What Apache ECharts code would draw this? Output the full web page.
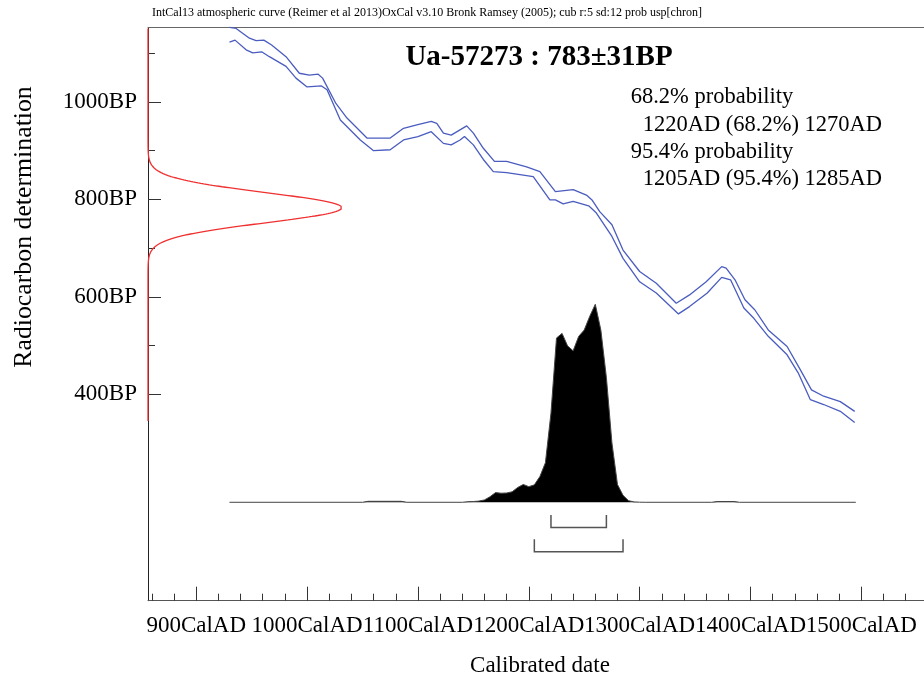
<!DOCTYPE html>
<html>
<head>
<meta charset="utf-8">
<script src="https://cdn.jsdelivr.net/npm/echarts@6/dist/echarts.min.js"></script>
<style>
  html, body { margin: 0; padding: 0; background: #fff; }
  #chart { width: 924px; height: 686px; }
</style>
</head>
<body>
<div id="chart"></div>
<script>
// Radiocarbon measurement
const labCode = 'Ua-57273';
const bpMean = 783;
const bpSigma = 31;

// Calibrated ranges (AD)
const range68 = [1220, 1270];
const range95 = [1205, 1285];

// Axis ticks
const yearTicks = [900, 1000, 1100, 1200, 1300, 1400, 1500];
const yearMinorTicks = [860, 880, 920, 940, 960, 980, 1020, 1040, 1060, 1080, 1120, 1140, 1160, 1180,
  1220, 1240, 1260, 1280, 1320, 1340, 1360, 1380, 1420, 1440, 1460, 1480, 1520, 1540];
const bpTicks = [400, 600, 800, 1000];
const bpMinorTicks = [500, 700, 900, 1100];

// Calibration curve, upper envelope (cal AD, BP)
const upperYears = [930, 936, 948, 954, 961, 968, 981, 993, 1002, 1010, 1014, 1026, 1036, 1054, 1075, 1087,
  1099, 1112, 1117, 1123, 1130, 1144, 1150, 1159, 1169, 1180, 1198, 1210, 1224, 1240, 1252, 1257, 1264,
  1275, 1285, 1300, 1315, 1333, 1345, 1360, 1374, 1378, 1386, 1395, 1404, 1416, 1433, 1445, 1455, 1466,
  1481, 1494];
const upperBP = [1153, 1151, 1131, 1126, 1127, 1117, 1093, 1059, 1055, 1057, 1049, 997, 967, 926, 926, 946,
  953, 960, 956, 936, 932, 951, 936, 905, 878, 878, 867, 857, 816, 820, 809, 799, 775,
  748, 696, 652, 628, 587, 604, 631, 662, 659, 635, 594, 573, 532, 498, 450, 409, 396,
  385, 365];

// Calibration curve, lower envelope (cal AD, BP)
const lowerYears = [930, 935, 945, 951, 959, 966, 981, 990, 1000, 1013, 1018, 1030, 1048, 1060, 1075, 1087,
  1100, 1112, 1123, 1130, 1138, 1142, 1150, 1159, 1168, 1180, 1204, 1219, 1224, 1231, 1240, 1254, 1261,
  1275, 1285, 1300, 1315, 1335, 1345, 1361, 1374, 1382, 1394, 1403, 1416, 1433, 1443, 1454, 1466,
  1481, 1494];
const lowerBP = [1123, 1127, 1107, 1101, 1103, 1093, 1073, 1049, 1031, 1033, 1025, 963, 922, 900, 902, 922,
  929, 939, 915, 912, 922, 929, 912, 882, 857, 855, 847, 799, 799, 791, 796, 787, 772,
  724, 679, 631, 608, 565, 580, 608, 640, 635, 577, 556, 519, 481, 444, 389, 379,
  365, 342];

// Calibrated probability (relative to the maximum)
const probYears = [930, 1050, 1055, 1085, 1090, 1140, 1145, 1150, 1155, 1160, 1165, 1170, 1175, 1180, 1185,
  1190, 1195, 1200, 1205, 1210, 1215, 1220, 1225, 1230, 1235, 1240, 1245, 1250, 1255, 1260, 1265, 1270,
  1275, 1280, 1285, 1290, 1295, 1300, 1305, 1365, 1370, 1385, 1390, 1495];
const probValues = [0, 0, 0.005, 0.005, 0, 0, 0.003, 0.004, 0.006, 0.012, 0.028, 0.049, 0.046, 0.047, 0.053,
  0.075, 0.09, 0.079, 0.088, 0.13, 0.2, 0.45, 0.83, 0.853, 0.79, 0.765, 0.838, 0.87, 0.94, 1.0, 0.87, 0.63,
  0.30, 0.09, 0.035, 0.008, 0.002, 0.0005, 0, 0, 0.004, 0.004, 0, 0];

const SERIF = '"Liberation Serif", "Times New Roman", serif';

// Normal density of the measurement, drawn against the BP axis
const bpGauss = [];
for (let bp = 345; bp <= 1152; bp += 1) {
  const z = (bp - bpMean) / bpSigma;
  bpGauss.push([Math.exp(-0.5 * z * z), bp]);
}

const pairs = (xs, ys) => xs.map((x, i) => [x, ys[i]]);

// The labels touch each other, so alternate ones go on two stacked axes
const yearTicksA = yearTicks.filter((_, i) => i % 2 === 0);
const yearTicksB = yearTicks.filter((_, i) => i % 2 === 1);

const chart = echarts.init(document.getElementById('chart'), null, { renderer: 'canvas' });

const yearMin = 856.5, yearMax = 1556.5;
const bpMin = -23.7, bpMax = 1152.9;

const yearLabel = {
  show: true, margin: 14, showMaxLabel: true, showMinLabel: true, hideOverlap: false,
  formatter: v => v + 'CalAD',
  fontFamily: SERIF, fontSize: 23, color: '#000'
};

function majorYearAxis(values, showLine) {
  return {
    type: 'value', min: yearMin, max: yearMax, position: 'bottom',
    axisLine: { show: showLine, onZero: false, lineStyle: { color: '#555', width: 1 } },
    axisTick: { show: true, inside: true, length: 14, customValues: values, lineStyle: { color: '#333' } },
    axisLabel: Object.assign({ customValues: values }, yearLabel),
    splitLine: { show: false }
  };
}

chart.setOption({
  animation: false,
  backgroundColor: '#fff',
  grid: { left: 148, right: 0, top: 27.5, bottom: 85.3, containLabel: false },
  xAxis: [
    majorYearAxis(yearTicksA, true),
    majorYearAxis(yearTicksB, false),
    {
      type: 'value', min: yearMin, max: yearMax, position: 'bottom',
      axisLine: { show: false, onZero: false },
      axisTick: { show: true, inside: true, length: 7, customValues: yearMinorTicks, lineStyle: { color: '#333' } },
      axisLabel: { show: false },
      splitLine: { show: false }
    },
    {
      type: 'value', min: 0, max: 4, position: 'top',
      axisLine: { show: true, onZero: false, lineStyle: { color: '#666', width: 1 } },
      axisTick: { show: false }, axisLabel: { show: false }, splitLine: { show: false }
    }
  ],
  yAxis: [
    {
      type: 'value', min: bpMin, max: bpMax, position: 'left',
      axisLine: { show: true, onZero: false, lineStyle: { color: '#222', width: 1 } },
      axisTick: { show: true, inside: true, length: 13, customValues: bpTicks, lineStyle: { color: '#333' } },
      axisLabel: {
        show: true, customValues: bpTicks, margin: 11,
        formatter: v => v + 'BP',
        fontFamily: SERIF, fontSize: 23, color: '#000'
      },
      splitLine: { show: false }
    },
    {
      type: 'value', min: bpMin, max: bpMax, position: 'left',
      axisLine: { show: false, onZero: false },
      axisTick: { show: true, inside: true, length: 7, customValues: bpMinorTicks, lineStyle: { color: '#333' } },
      axisLabel: { show: false },
      splitLine: { show: false }
    },
    {
      type: 'value', min: -0.497, max: 2.398, show: false,
      axisLine: { onZero: false }
    }
  ],
  series: [
    {
      name: 'IntCal13 upper', type: 'line', xAxisIndex: 0, yAxisIndex: 0,
      data: pairs(upperYears, upperBP), symbol: 'none', clip: false,
      lineStyle: { color: '#4a5cbf', width: 1.3 }
    },
    {
      name: 'IntCal13 lower', type: 'line', xAxisIndex: 0, yAxisIndex: 0,
      data: pairs(lowerYears, lowerBP), symbol: 'none', clip: false,
      lineStyle: { color: '#4a5cbf', width: 1.3 }
    },
    {
      name: 'Radiocarbon determination', type: 'line', xAxisIndex: 3, yAxisIndex: 0,
      data: bpGauss, symbol: 'none', clip: false,
      lineStyle: { color: '#f03030', width: 1.3 }
    },
    {
      name: 'Calibrated probability', type: 'line', xAxisIndex: 0, yAxisIndex: 2,
      data: pairs(probYears, probValues), symbol: 'none',
      lineStyle: { color: '#444', width: 1 },
      areaStyle: { color: '#000', opacity: 1, origin: 'auto' }
    },
    {
      name: 'Ranges', type: 'custom', xAxisIndex: 0, yAxisIndex: 2,
      data: [[range68[0], range68[1], 0], [range95[0], range95[1], 1]],
      renderItem: (params, api) => {
        const a = api.coord([api.value(0), 0]);
        const b = api.coord([api.value(1), 0]);
        const top = a[1] + 12.7 + api.value(2) * 24.3;
        const bottom = top + 12.4;
        return {
          type: 'polyline',
          shape: { points: [[a[0], top], [a[0], bottom], [b[0], bottom], [b[0], top]] },
          style: { stroke: '#555', lineWidth: 1.5, fill: null }
        };
      }
    }
  ],
  graphic: [
    {
      type: 'text', x: 152, y: 13,
      style: {
        text: 'IntCal13 atmospheric curve (Reimer et al 2013)OxCal v3.10 Bronk Ramsey (2005); cub r:5 sd:12 prob usp[chron]',
        font: '12px ' + SERIF, fill: '#000', align: 'left', verticalAlign: 'middle',
        textAlign: 'left', textVerticalAlign: 'middle'
      }
    },
    {
      type: 'text', x: 539, y: 58,
      style: {
        text: labCode + ' : ' + bpMean + '\u00b1' + bpSigma + 'BP',
        font: 'bold 29px ' + SERIF, fill: '#000', align: 'center', verticalAlign: 'middle',
        textAlign: 'center', textVerticalAlign: 'middle'
      }
    },
    {
      type: 'text', x: 630.7, y: 97.5,
      style: { text: '68.2% probability', font: '22.5px ' + SERIF, fill: '#000',
        align: 'left', verticalAlign: 'middle', textAlign: 'left', textVerticalAlign: 'middle' }
    },
    {
      type: 'text', x: 642.7, y: 125,
      style: { text: range68[0] + 'AD (68.2%) ' + range68[1] + 'AD', font: '22.5px ' + SERIF, fill: '#000',
        align: 'left', verticalAlign: 'middle', textAlign: 'left', textVerticalAlign: 'middle' }
    },
    {
      type: 'text', x: 630.7, y: 152.3,
      style: { text: '95.4% probability', font: '22.5px ' + SERIF, fill: '#000',
        align: 'left', verticalAlign: 'middle', textAlign: 'left', textVerticalAlign: 'middle' }
    },
    {
      type: 'text', x: 642.7, y: 179,
      style: { text: range95[0] + 'AD (95.4%) ' + range95[1] + 'AD', font: '22.5px ' + SERIF, fill: '#000',
        align: 'left', verticalAlign: 'middle', textAlign: 'left', textVerticalAlign: 'middle' }
    },
    {
      type: 'text', x: 540, y: 666,
      style: { text: 'Calibrated date', font: '23px ' + SERIF, fill: '#000',
        align: 'center', verticalAlign: 'middle', textAlign: 'center', textVerticalAlign: 'middle' }
    },
    {
      type: 'text', x: 24, y: 227, rotation: Math.PI / 2,
      style: { text: 'Radiocarbon determination', x: 0, y: 0, font: '25.8px ' + SERIF, fill: '#000',
        align: 'center', verticalAlign: 'middle', textAlign: 'center', textVerticalAlign: 'middle' }
    }
  ]
});
</script>
</body>
</html>
